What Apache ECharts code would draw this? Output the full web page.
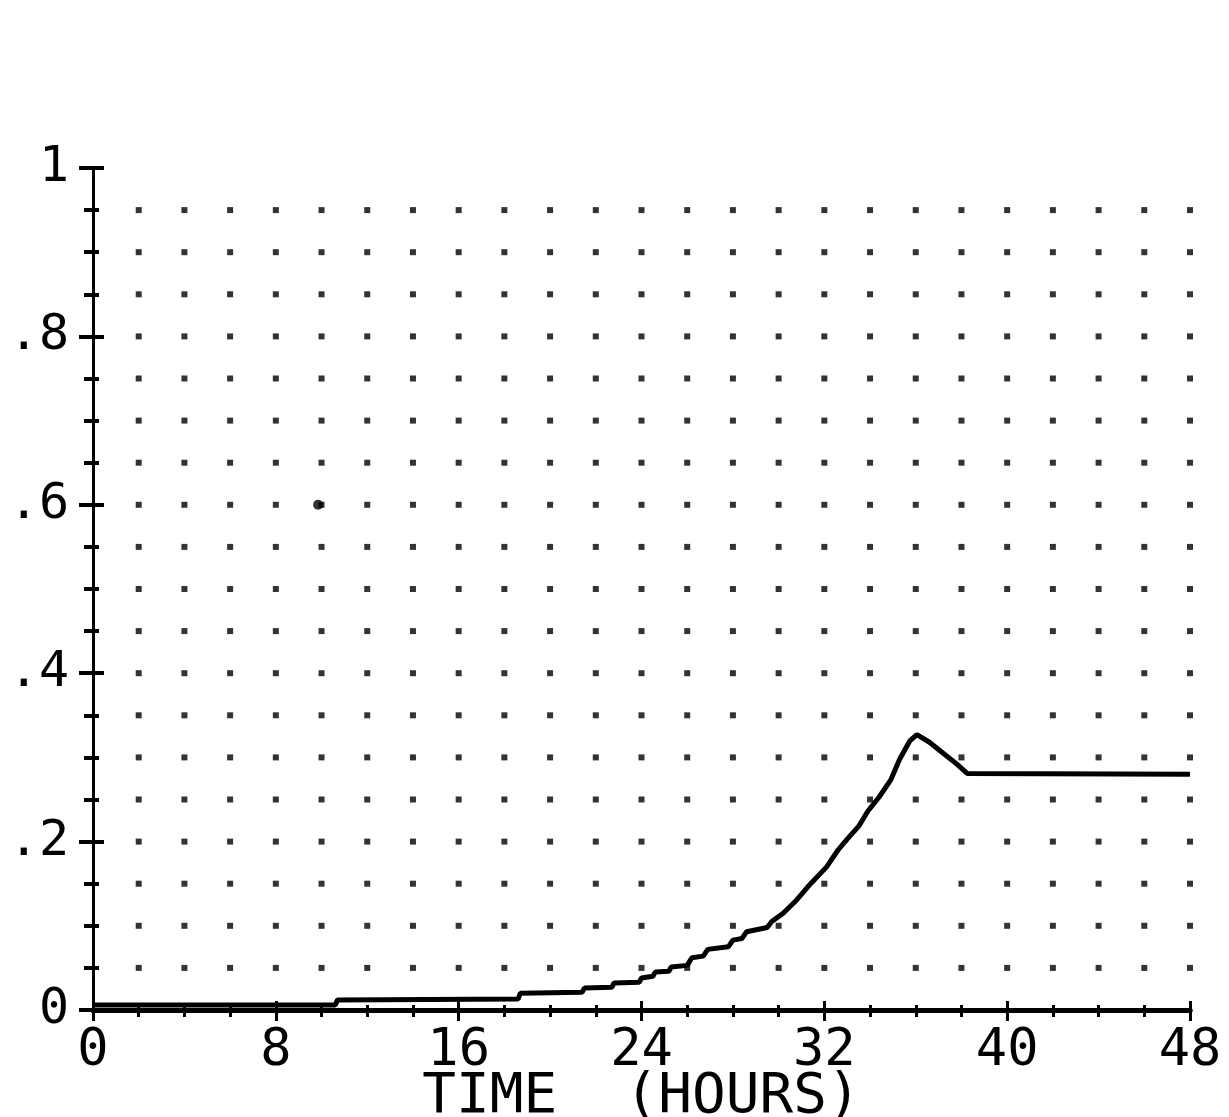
<!DOCTYPE html>
<html>
<head>
<meta charset="utf-8">
<title>Time (hours)</title>
<script src="https://cdn.jsdelivr.net/npm/echarts@6/dist/echarts.min.js"></script>
<style>
  html, body { margin: 0; padding: 0; background: #ffffff; }
  #chart { width: 1229px; height: 1117px; }
</style>
</head>
<body>
<div id="chart"></div>
<script>
// Response curve over 48 hours (hour, value)
const hours = [0, 10.6, 10.7, 18.6, 18.7, 21.4, 21.5, 22.7, 22.8, 23.9, 24.0, 24.5, 24.6, 25.2, 25.3,
  26.0, 26.2, 26.7, 26.9, 27.8, 28.0, 28.4, 28.6, 29.5, 29.7, 30.2, 30.8, 31.4, 32.1, 32.6, 33.0,
  33.5, 33.9, 34.4, 34.9, 35.3, 35.75, 36.05, 36.6, 37.2, 37.8, 38.25, 48];
const values = [0.006, 0.006, 0.012, 0.013, 0.020, 0.021, 0.026, 0.027, 0.032, 0.033, 0.038, 0.040, 0.045, 0.046, 0.051,
  0.053, 0.062, 0.064, 0.072, 0.075, 0.083, 0.085, 0.093, 0.098, 0.105, 0.115, 0.131, 0.150, 0.170, 0.190, 0.203,
  0.218, 0.236, 0.253, 0.273, 0.298, 0.320, 0.327, 0.318, 0.305, 0.292, 0.281, 0.280];

// Lone plotted point
const strayHours = [9.85];
const strayValues = [0.6];

// Axis tick labels
const xTickLabels = ['0', '8', '16', '24', '32', '40', '48'];
const yTickLabels = ['0', '.2', '.4', '.6', '.8', '1'];

// Dot grid spacing
const dotHourStep = 2;
const dotValueStep = 0.05;

const curve = hours.map((h, i) => [h, values[i]]);
const stray = strayHours.map((h, i) => [h, strayValues[i]]);

const dots = [];
for (let h = dotHourStep; h <= 48 + 1e-9; h += dotHourStep) {
  for (let k = 1; k * dotValueStep < 1 - 1e-9; k++) {
    dots.push([h, +(k * dotValueStep).toFixed(2)]);
  }
}

const FONT = 'DejaVu Sans Mono';
const INK = '#000000';

function xAxisBase(inside) {
  return {
    type: 'value', min: 0, max: 48, interval: 8, position: 'bottom',
    axisLine: { show: true, onZero: false, lineStyle: { color: INK, width: 5 } },
    axisTick: { show: true, inside: inside, length: inside ? 9 : 11, lineStyle: { color: INK, width: 3 } },
    minorTick: { show: true, splitNumber: 4, length: inside ? 5 : 7, lineStyle: { color: INK, width: 3 } },
    splitLine: { show: false },
    minorSplitLine: { show: false }
  };
}
function yAxisBase(inside) {
  return {
    type: 'value', min: 0, max: 1, interval: 0.2, position: 'left',
    axisLine: { show: true, onZero: false, lineStyle: { color: INK, width: 3 } },
    axisTick: { show: true, inside: inside, length: inside ? 11 : 14, lineStyle: { color: INK, width: 4 } },
    minorTick: { show: true, splitNumber: 4, length: inside ? 6 : 9, lineStyle: { color: INK, width: 4 } },
    splitLine: { show: false },
    minorSplitLine: { show: false }
  };
}

const xOuter = Object.assign(xAxisBase(false), {
  name: 'TIME  (HOURS)',
  nameLocation: 'middle',
  nameGap: 59,
  nameMoveOverlap: false,
  nameTextStyle: { fontFamily: FONT, fontSize: 56, color: INK },
  axisLabel: {
    show: true, margin: 15, fontFamily: FONT, fontSize: 52, color: INK,
    formatter: v => xTickLabels[Math.round(v / 8)]
  }
});
const xInner = Object.assign(xAxisBase(true), { axisLabel: { show: false } });

const yOuter = Object.assign(yAxisBase(false), {
  axisLabel: {
    show: true, margin: 24, fontFamily: FONT, fontSize: 50, color: INK,
    formatter: v => yTickLabels[Math.round(v / 0.2)]
  }
});
const yInner = Object.assign(yAxisBase(true), { axisLabel: { show: false } });

const chart = echarts.init(document.getElementById('chart'), null, { renderer: 'canvas' });
chart.setOption({
  backgroundColor: '#ffffff',
  animation: false,
  grid: { left: 93, right: 39, top: 168, bottom: 107, containLabel: false, outerBoundsMode: 'none' },
  xAxis: [xOuter, xInner],
  yAxis: [yOuter, yInner],
  series: [
    {
      type: 'scatter', xAxisIndex: 0, yAxisIndex: 0, silent: true,
      symbol: 'rect', symbolSize: 6,
      itemStyle: { color: INK },
      data: dots, z: 1
    },
    {
      type: 'line', xAxisIndex: 0, yAxisIndex: 0, silent: true,
      showSymbol: false, symbol: 'none',
      lineStyle: { color: INK, width: 5 },
      data: curve, z: 3
    },
    {
      type: 'scatter', xAxisIndex: 0, yAxisIndex: 0, silent: true,
      symbol: 'circle', symbolSize: 10,
      itemStyle: { color: INK },
      data: stray, z: 3
    }
  ]
});
</script>
</body>
</html>
